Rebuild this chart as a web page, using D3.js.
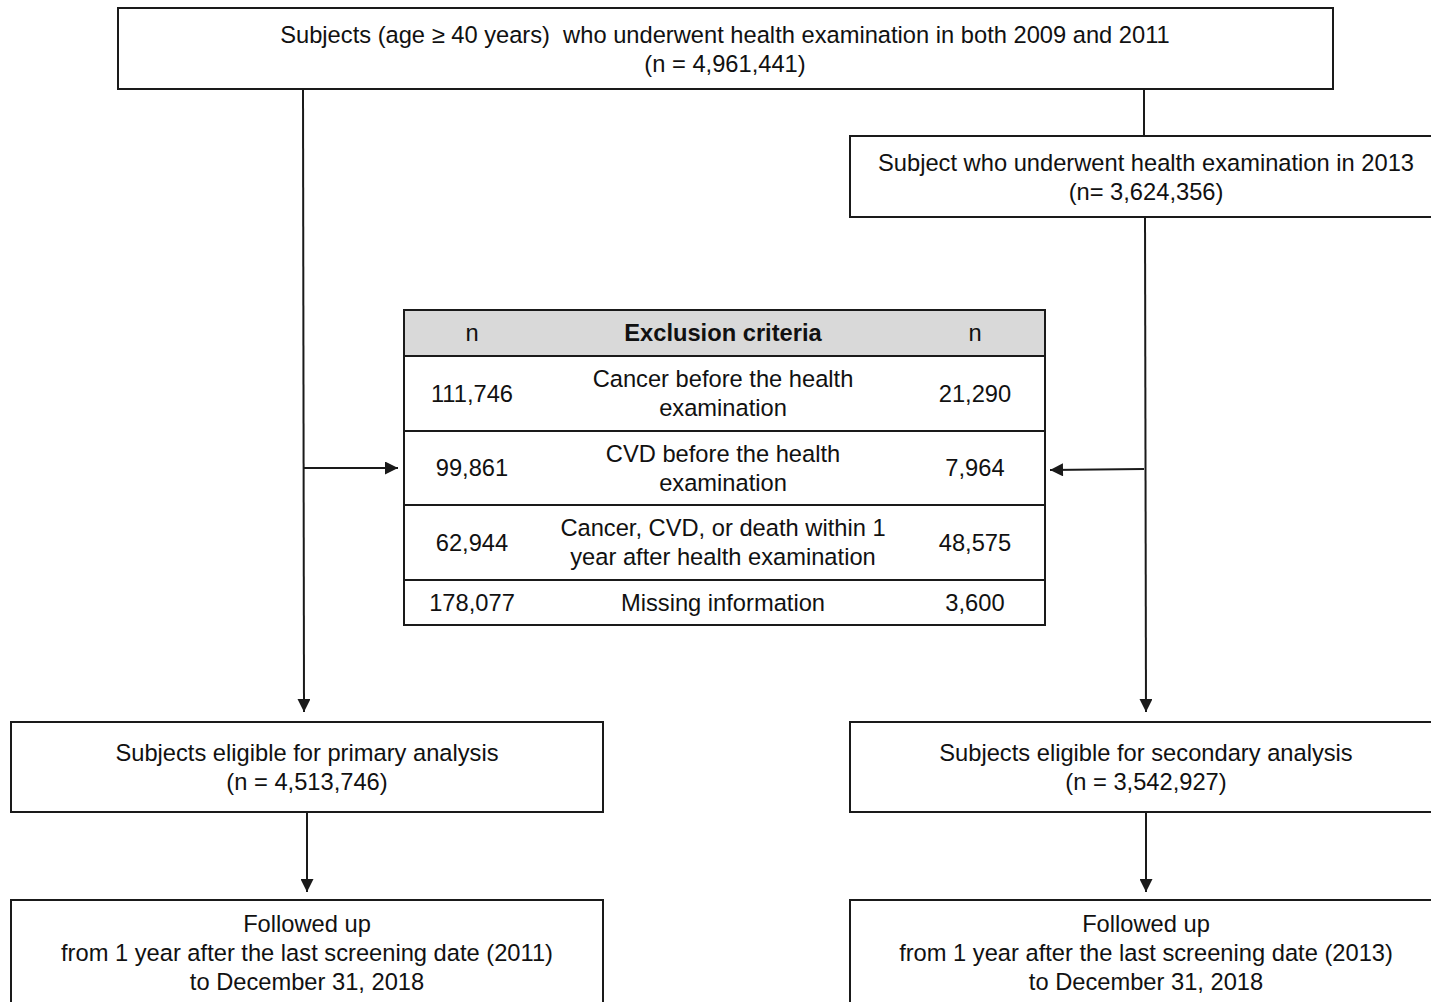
<!DOCTYPE html>
<html>
<head>
<meta charset="utf-8">
<script src="https://cdn.jsdelivr.net/npm/d3@7"></script>
<style>
  body { margin: 0; background: #fff; }
  svg { display: block; font-family: "Liberation Sans", Arial, sans-serif; }
  text { white-space: pre; }
</style>
</head>
<body>
<svg id="chart" width="1431" height="1002"></svg>
<script>
'use strict';

// flow boxes: text lines
var topLines = ["Subjects (age \u2265 40 years)  who underwent health examination in both 2009 and 2011", "(n = 4,961,441)"];
var exam2013Lines = ["Subject who underwent health examination in 2013", "(n= 3,624,356)"];
var primaryLines = ["Subjects eligible for primary analysis", "(n = 4,513,746)"];
var secondaryLines = ["Subjects eligible for secondary analysis", "(n = 3,542,927)"];
var followLeftLines = ["Followed up", "from 1 year after the last screening date (2011)", "to December 31, 2018"];
var followRightLines = ["Followed up", "from 1 year after the last screening date (2013)", "to December 31, 2018"];

// exclusion table
var tableHeader = ["n", "Exclusion criteria", "n"];
var criteria = [["Cancer before the health", "examination"], ["CVD before the health", "examination"], ["Cancer, CVD, or death within 1", "year after health examination"], ["Missing information"]];
var primaryExcluded = ["111,746", "99,861", "62,944", "178,077"];
var secondaryExcluded = ["21,290", "7,964", "48,575", "3,600"];

var svg = d3.select("#chart");
var stroke = "#1a1a1a";
var fontSize = 23.7;
var lineGap = 29;

svg.append("defs").append("marker")
    .attr("id", "arrow")
    .attr("viewBox", "0 0 10 10")
    .attr("refX", 10).attr("refY", 5)
    .attr("markerWidth", 7).attr("markerHeight", 6.5)
    .attr("markerUnits", "strokeWidth")
    .attr("orient", "auto")
    .append("path")
    .attr("d", "M0,0 L10,5 L0,10 Z")
    .attr("fill", stroke);

function drawBox(x, y, w, h, lines, textY, cx) {
    var g = svg.append("g");
    g.append("rect")
        .attr("x", x).attr("y", y).attr("width", w).attr("height", h)
        .attr("fill", "#fff").attr("stroke", stroke).attr("stroke-width", 2);
    g.selectAll("text").data(lines).enter().append("text")
        .attr("x", cx)
        .attr("y", function (d, i) { return textY + i * lineGap; })
        .attr("text-anchor", "middle")
        .attr("dominant-baseline", "middle")
        .attr("font-size", fontSize)
        .attr("fill", "#111")
        .text(function (d) { return d; });
}

function drawLine(pts, arrow) {
    var p = svg.append("path")
        .attr("d", d3.line()(pts))
        .attr("fill", "none").attr("stroke", stroke).attr("stroke-width", 2);
    if (arrow) p.attr("marker-end", "url(#arrow)");
}

// connectors
drawLine([[303, 89], [304, 712]], true);
drawLine([[1144, 89], [1144, 137]], false);
drawLine([[1145, 217], [1146, 712]], true);
drawLine([[304, 468], [398, 468]], true);
drawLine([[1144, 469], [1050, 470]], true);
drawLine([[307, 812], [307, 892]], true);
drawLine([[1146, 812], [1146, 892]], true);

// boxes
drawBox(118, 8, 1215, 81, topLines, 37, 725);
drawBox(850, 136, 600, 81, exam2013Lines, 165, 1146);
drawBox(11, 722, 592, 90, primaryLines, 755, 307);
drawBox(850, 722, 600, 90, secondaryLines, 755, 1146);
drawBox(11, 900, 592, 120, followLeftLines, 926, 307);
drawBox(850, 900, 600, 120, followRightLines, 926, 1146);

// exclusion table
var tx = 404, tw = 641, headerTop = 310, headerH = 46;
var rowHeights = [75, 74, 75, 45];
var colX = [472, 723, 975];

var rowTops = [];
var acc = headerTop + headerH;
rowHeights.forEach(function (h) { rowTops.push(acc); acc += h; });
var tableBottom = acc;

var tbl = svg.append("g");
tbl.append("rect")
    .attr("x", tx).attr("y", headerTop).attr("width", tw).attr("height", headerH)
    .attr("fill", "#d9d9d9");
tbl.append("rect")
    .attr("x", tx).attr("y", headerTop).attr("width", tw).attr("height", tableBottom - headerTop)
    .attr("fill", "none").attr("stroke", stroke).attr("stroke-width", 2);
tbl.selectAll("line.row").data(rowTops).enter().append("line")
    .attr("class", "row")
    .attr("x1", tx).attr("x2", tx + tw)
    .attr("y1", function (d) { return d; }).attr("y2", function (d) { return d; })
    .attr("stroke", stroke).attr("stroke-width", 2);

tbl.selectAll("text.head").data(tableHeader).enter().append("text")
    .attr("class", "head")
    .attr("x", function (d, i) { return colX[i]; })
    .attr("y", headerTop + headerH / 2 + 2)
    .attr("text-anchor", "middle").attr("dominant-baseline", "middle")
    .attr("font-size", fontSize)
    .attr("font-weight", function (d, i) { return i === 1 ? "bold" : "normal"; })
    .attr("fill", "#111")
    .text(function (d) { return d; });

var rows = tbl.selectAll("g.tr").data(criteria).enter().append("g").attr("class", "tr");
rows.append("text")
    .attr("x", colX[0])
    .attr("y", function (d, i) { return rowTops[i] + rowHeights[i] / 2 + 2; })
    .attr("text-anchor", "middle").attr("dominant-baseline", "middle")
    .attr("font-size", fontSize).attr("fill", "#111")
    .text(function (d, i) { return primaryExcluded[i]; });
rows.append("text")
    .attr("x", colX[2])
    .attr("y", function (d, i) { return rowTops[i] + rowHeights[i] / 2 + 2; })
    .attr("text-anchor", "middle").attr("dominant-baseline", "middle")
    .attr("font-size", fontSize).attr("fill", "#111")
    .text(function (d, i) { return secondaryExcluded[i]; });
rows.each(function (d, i) {
    var mid = rowTops[i] + rowHeights[i] / 2 + 2;
    var start = mid - (d.length - 1) * lineGap / 2;
    d3.select(this).selectAll("text.crit").data(d).enter().append("text")
        .attr("class", "crit")
        .attr("x", colX[1])
        .attr("y", function (t, j) { return start + j * lineGap; })
        .attr("text-anchor", "middle").attr("dominant-baseline", "middle")
        .attr("font-size", fontSize).attr("fill", "#111")
        .text(function (t) { return t; });
});
</script>
</body>
</html>
